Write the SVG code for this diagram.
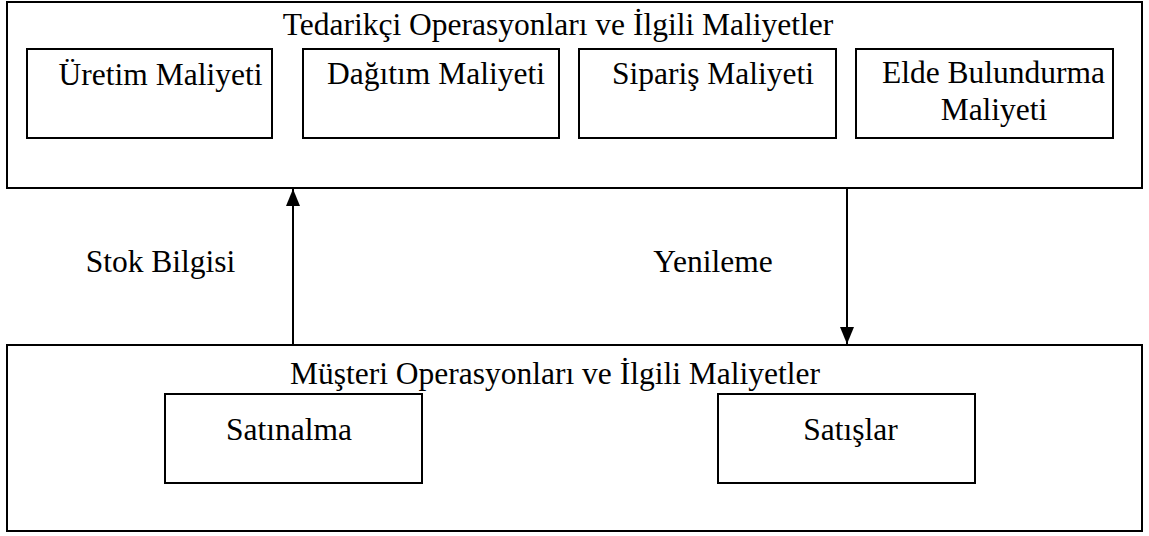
<svg xmlns="http://www.w3.org/2000/svg" width="1149" height="536" viewBox="0 0 1149 536">
  <style>
    .box { fill: none; stroke: #000; stroke-width: 2; }
    .lbl { font-family: "Liberation Serif", "Times New Roman", serif; font-size: 31.5px; fill: #000; text-anchor: middle; }
    .edge { stroke: #000; stroke-width: 2; fill: none; }
  </style>
  <defs>
    <marker id="arrow" markerWidth="17" markerHeight="14" refX="17" refY="7" orient="auto" markerUnits="userSpaceOnUse" viewBox="0 0 17 14">
      <path d="M0,0 L17,7 L0,14 Z" fill="#000"/>
    </marker>
  </defs>
  <rect width="1149" height="536" fill="#fff"/>

  <!-- Supplier side -->
  <g id="tedarikci">
    <rect class="box" x="7" y="2" width="1135" height="186"/>
    <text class="lbl" x="558" y="35">Tedarikçi Operasyonları ve İlgili Maliyetler</text>
  </g>
  <g id="uretim">
    <rect class="box" x="27" y="49" width="245" height="89"/>
    <text class="lbl" x="160.5" y="85">Üretim Maliyeti</text>
  </g>
  <g id="dagitim">
    <rect class="box" x="303" y="49" width="256" height="89"/>
    <text class="lbl" x="436" y="84">Dağıtım Maliyeti</text>
  </g>
  <g id="siparis">
    <rect class="box" x="579" y="49" width="257" height="89"/>
    <text class="lbl" x="713" y="84">Sipariş Maliyeti</text>
  </g>
  <g id="elde">
    <rect class="box" x="856" y="49" width="257" height="89"/>
    <text class="lbl" x="993.5" y="83">Elde Bulundurma</text>
    <text class="lbl" x="994" y="120">Maliyeti</text>
  </g>

  <!-- Customer side -->
  <g id="musteri">
    <rect class="box" x="7" y="345" width="1135" height="186"/>
    <text class="lbl" x="555" y="384">Müşteri Operasyonları ve İlgili Maliyetler</text>
  </g>
  <g id="satinalma">
    <rect class="box" x="165" y="394" width="257" height="89"/>
    <text class="lbl" x="289" y="440">Satınalma</text>
  </g>
  <g id="satislar">
    <rect class="box" x="718" y="394" width="257" height="89"/>
    <text class="lbl" x="850.5" y="440">Satışlar</text>
  </g>

  <!-- Flows between the two sides -->
  <g id="connectors">
    <line class="edge" x1="293" y1="344" x2="293" y2="189" marker-end="url(#arrow)"/>
    <text class="lbl" x="160.5" y="272">Stok Bilgisi</text>
    <line class="edge" x1="847" y1="189" x2="847" y2="344" marker-end="url(#arrow)"/>
    <text class="lbl" x="713" y="272">Yenileme</text>
  </g>
</svg>
